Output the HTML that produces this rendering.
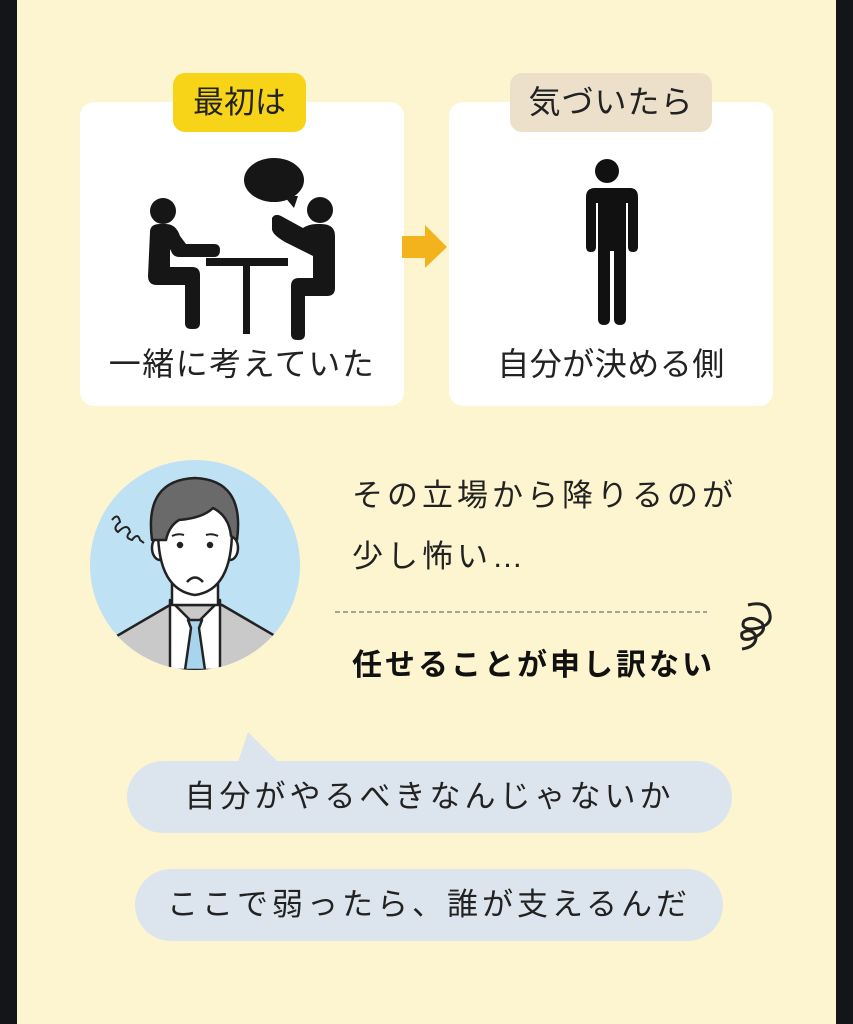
<!DOCTYPE html>
<html><head><meta charset="utf-8"><style>
html,body{margin:0;padding:0}
body{width:853px;height:1024px;position:relative;overflow:hidden;background:#fdf5cf;font-family:"Liberation Sans","Noto Sans CJK JP",sans-serif;color:#222}
.abs{position:absolute}
.box{background:#fff;border-radius:14px}
.t{white-space:nowrap;line-height:1}
</style></head><body>
<div class="abs" style="left:0;top:0;width:17px;height:1024px;background:#131519"></div>
<div class="abs" style="left:836px;top:0;width:17px;height:1024px;background:#131519"></div>

<div class="abs box" style="left:80px;top:102px;width:324px;height:304px"></div>
<div class="abs box" style="left:449px;top:102px;width:324px;height:304px"></div>

<div class="abs t" style="left:173px;top:73px;width:133px;height:59px;background:#f8d418;border-radius:12px;font-size:31px;text-align:center;line-height:59px;color:#222">最初は</div>
<div class="abs t" style="left:510px;top:73px;width:202px;height:59px;background:#ede0cb;border-radius:12px;font-size:32px;text-align:center;line-height:59px;color:#222;letter-spacing:1px">気づいたら</div>

<svg class="abs" style="left:0;top:0" width="853" height="1024">
 <polygon points="402,236 425,236 425,225 447,247 425,268 425,258 402,258" fill="#f2b31c"/>
 <g fill="#161616">
  <circle cx="163" cy="211" r="13"/>
  <path d="M150,232 q0,-8 10,-8 h6 q10,0 14,12 l6,8 h28 q6,0 6,6 q0,7 -6,7 h-34 q-6,0 -8,-4 l-2,-4 v18 h22 q8,0 8,8 v48 q0,6 -6,6 h-3 q-6,0 -6,-6 v-38 h-28 q-9,0 -9,-9 z"/>
  <rect x="206" y="258" width="82" height="8"/>
  <rect x="243" y="262" width="7" height="72"/>
  <circle cx="320" cy="210" r="13"/>
  <path d="M272,218 q3,-5 9,-2 l22,12 q6,-4 14,-4 h4 q14,0 14,12 v52 q0,8 -8,8 h-22 v38 q0,6 -6,6 h-2 q-6,0 -6,-6 v-48 q0,-8 8,-8 h14 v-22 l-28,-14 q-14,-8 -13,-14 z"/>
  <ellipse cx="274" cy="180" rx="30" ry="22"/>
  <polygon points="284,196 298,196 294,208"/>
 </g>
 <g fill="#111">
  <circle cx="607" cy="171" r="12"/>
  <path d="M584,188 h46 q8,0 8,9 v50 q0,5 -5,5 q-5,0 -5,-5 v-44 h-2 v116 q0,6 -6,6 q-6,0 -6,-6 v-68 h-4 v68 q0,6 -6,6 q-6,0 -6,-6 v-116 h-2 v44 q0,5 -5,5 q-5,0 -5,-5 v-50 q0,-9 9,-9 z"/>
 </g>
 <circle cx="195" cy="565" r="105" fill="#bfe1f4"/>
 <clipPath id="c"><circle cx="195" cy="565" r="105"/></clipPath>
 <g clip-path="url(#c)" stroke="#222" stroke-width="2.5" stroke-linejoin="round">
  <path d="M110,640 l60,-35 h52 l60,35 v40 h-172 z" fill="#c9c9c9"/>
  <path d="M170,600 l25,25 l25,-25 v70 h-50 z" fill="#fff"/>
  <path d="M188,620 h14 l-3,8 l6,42 h-20 l6,-42 z" fill="#a9d4ee"/>
  <path d="M172,580 v25 h46 v-25" fill="#fff"/>
  <ellipse cx="160" cy="548" rx="8" ry="12" fill="#fff"/>
  <ellipse cx="230" cy="548" rx="8" ry="12" fill="#fff"/>
  <path d="M158,530 q0,60 37,65 q37,-5 37,-65 q0,-30 -37,-32 q-37,2 -37,32z" fill="#fff"/>
  <path d="M152,540 q-8,-60 43,-62 q50,2 42,62 l-6,-4 q-2,-20 -18,-28 q-10,10 -34,12 q-10,6 -13,20 z" fill="#6a6a6a"/>
  <circle cx="180" cy="545" r="2" fill="#222"/>
  <circle cx="210" cy="545" r="2" fill="#222"/>
  <path d="M187,582 q8,-9 16,0" fill="none"/>
  <path d="M172,536 q6,-3 12,-1 M206,535 q6,-2 12,1" fill="none" stroke-width="2"/>
 </g>
 <path d="M112,520 q6,-8 8,2 q-8,6 -2,10 q10,-10 12,0 q-6,6 2,8 q6,-8 8,0 l4,3" fill="none" stroke="#222" stroke-width="2"/>
 <line x1="335" y1="612" x2="707" y2="612" stroke="#888" stroke-width="1.5" stroke-dasharray="5,3"/>
 <path d="M748,605 q20,-5 22,10 q2,12 -18,14 q-12,0 -8,-8 q8,-6 18,2 q6,10 -12,16 q-10,2 -8,-6 q10,-6 14,4 q0,10 -14,12" fill="none" stroke="#222" stroke-width="3"/>
 <polygon points="238,762 248,732 278,762" fill="#dce5ee"/>
 <rect x="127" y="761" width="605" height="72" rx="36" fill="#dce5ee"/>
 <rect x="135" y="869" width="588" height="72" rx="36" fill="#dce5ee"/>
</svg>

<div class="abs t" style="left:80px;top:348px;width:324px;text-align:center;font-size:32px;letter-spacing:1.5px;color:#222">一緒に考えていた</div>
<div class="abs t" style="left:449px;top:348px;width:324px;text-align:center;font-size:32px;letter-spacing:0.5px;color:#222">自分が決める側</div>

<div class="abs t" style="left:352px;top:480px;font-size:31px;letter-spacing:4px">その立場から降りるのが</div>
<div class="abs t" style="left:352px;top:541px;font-size:31px;letter-spacing:4px">少し怖い…</div>
<div class="abs t" style="left:352px;top:651px;font-size:30px;font-weight:bold;color:#111;letter-spacing:3px">任せることが申し訳ない</div>

<div class="abs t" style="left:127px;top:781px;width:605px;text-align:center;font-size:31px;letter-spacing:4px">自分がやるべきなんじゃないか</div>
<div class="abs t" style="left:135px;top:889px;width:588px;text-align:center;font-size:31px;letter-spacing:4px">ここで弱ったら、誰が支えるんだ</div>
</body></html>
